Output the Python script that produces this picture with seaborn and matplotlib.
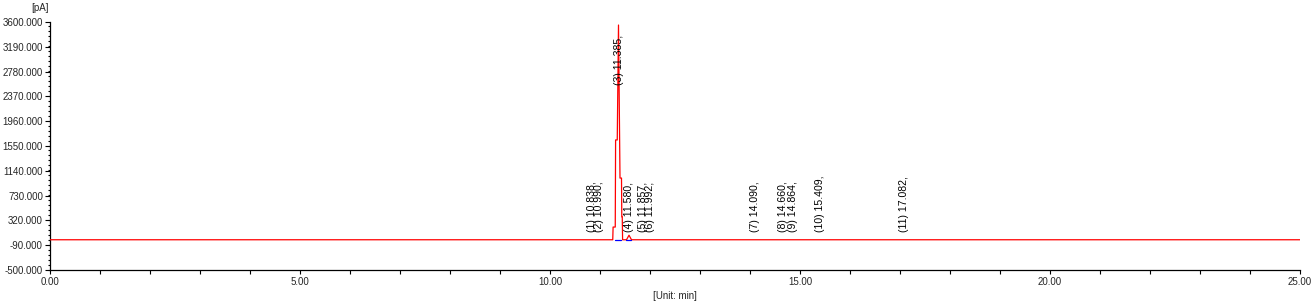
import matplotlib
matplotlib.use("Agg")
import matplotlib.pyplot as plt
import seaborn as sns
import pandas as pd
from matplotlib.ticker import FixedLocator, MultipleLocator, FormatStrFormatter

# ---- data ----
time_min = [0.0, 11.255, 11.262, 11.305, 11.312, 11.345, 11.37, 11.40, 11.43,
            11.436, 11.445, 11.452, 11.53, 11.58, 11.63, 25.0]
signal_pA = [0, 0, 210, 210, 1650, 1650, 3550, 1020, 1020,
             380, 380, 0, 0, 75, 0, 0]

baseline_start = [11.30, 11.52]
baseline_end = [11.41, 11.62]

peak_no = [1, 2, 3, 4, 5, 6, 7, 8, 9, 10, 11]
peak_time = [10.838, 10.990, 11.385, 11.580, 11.857, 11.992,
             14.090, 14.660, 14.864, 15.409, 17.082]

x_ticks = [0.0, 5.0, 10.0, 15.0, 20.0, 25.0]
y_ticks = [-500, -90, 320, 730, 1140, 1550, 1960, 2370, 2780, 3190, 3600]

# ---- figure ----
sns.set_theme(style="white")
plt.rcParams['font.family'] = ['Liberation Sans', 'DejaVu Sans']

W, H = 1316, 305
fig = plt.figure(figsize=(W / 100, H / 100), dpi=100)
ax = fig.add_axes([50 / W, 35 / H, 1250 / W, 248 / H])

df = pd.DataFrame({"time": time_min, "signal": signal_pA})
sns.lineplot(data=df, x="time", y="signal", ax=ax, color="#ff0000",
             linewidth=0.9, sort=False, estimator=None, zorder=3)

for s, e in zip(baseline_start, baseline_end):
    ax.plot([s, e], [0, 0], color="#0000ff", linewidth=0.9, zorder=4)

for n, t in zip(peak_no, peak_time):
    ypos = 2560 if n == 3 else 128
    ax.text(t, ypos, f"({n}) {t:.3f},", rotation=90, ha="center", va="bottom",
            fontsize=7.6, color="black", zorder=5)

ax.set_xlim(0, 25)
ax.set_ylim(-500, 3600)
ax.xaxis.set_major_locator(FixedLocator(x_ticks))
ax.xaxis.set_minor_locator(MultipleLocator(1.0))
ax.yaxis.set_major_locator(FixedLocator(y_ticks))
ax.yaxis.set_minor_locator(MultipleLocator(82))
ax.xaxis.set_major_formatter(FormatStrFormatter("%.2f"))
ax.yaxis.set_major_formatter(FormatStrFormatter("%.3f"))

for side in ("top", "right"):
    ax.spines[side].set_visible(False)
for side in ("left", "bottom"):
    ax.spines[side].set_color("black")
    ax.spines[side].set_linewidth(0.9)

ax.tick_params(axis="x", which="both", direction="out", length=3.2, width=0.8,
               color="black", labelsize=7, pad=2, bottom=True)
ax.tick_params(axis="y", which="major", direction="out", length=3.6, width=0.8,
               color="black", labelsize=7, pad=1.5, left=True)
ax.tick_params(axis="y", which="minor", direction="out", length=1.8, width=0.8,
               color="black", left=True)
ax.set_xlabel("")
ax.set_ylabel("")
ax.grid(False)

fig.text(40 / W, 1 - 8 / H, "[pA]", ha="center", va="center", fontsize=7)
fig.text(675 / W, 1 - 296 / H, "[Unit: min]", ha="center", va="center", fontsize=7)

fig.savefig("out.png", dpi=100, facecolor="white")
